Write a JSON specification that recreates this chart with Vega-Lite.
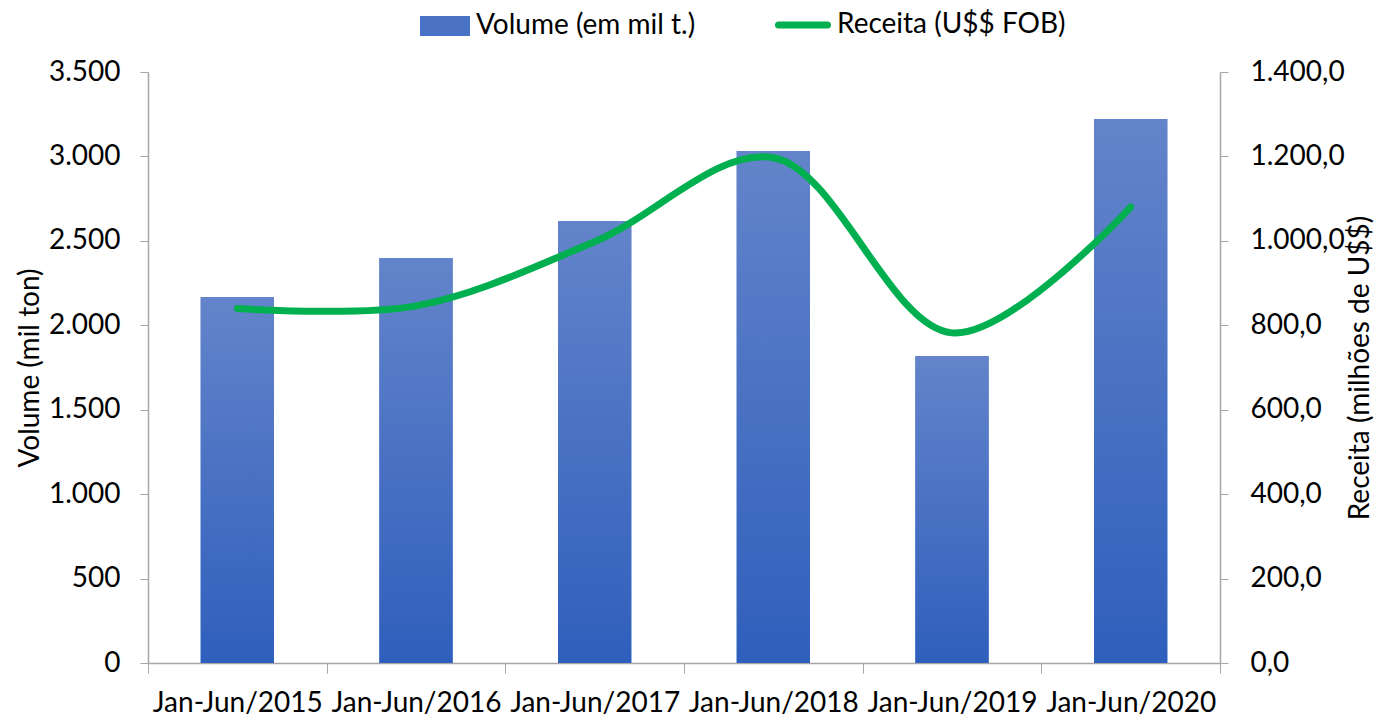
{
  "$schema": "https://vega.github.io/schema/vega-lite/v6.json",
  "width": 1072,
  "height": 591,
  "autosize": "none",
  "padding": {"left": 148, "top": 72, "right": 158, "bottom": 56},
  "background": "white",
  "config": {
    "view": {"stroke": null},
    "font": "Lato",
    "locale": {"number": {"decimal": ",", "thousands": ".", "grouping": [3], "currency": ["R$", ""]}},
    "axis": {"domainColor": "#a6a6a6", "tickColor": "#a6a6a6", "labelColor": "#000000", "titleColor": "#000000", "labelFont": "Lato", "titleFont": "Lato", "labelFontSize": 28, "titleFontSize": 28, "titleFontWeight": "normal", "grid": false}
  },
  "data": {"values": [
    {"p": "Jan-Jun/2015", "vol": 2167, "rec": 840},
    {"p": "Jan-Jun/2016", "vol": 2398, "rec": 846},
    {"p": "Jan-Jun/2017", "vol": 2618, "rec": 998},
    {"p": "Jan-Jun/2018", "vol": 3032, "rec": 1197},
    {"p": "Jan-Jun/2019", "vol": 1818, "rec": 782},
    {"p": "Jan-Jun/2020", "vol": 3222, "rec": 1080}
  ]},
  "encoding": {
    "x": {"field": "p", "type": "nominal", "sort": null,
      "scale": {"paddingInner": 0, "paddingOuter": 0},
      "axis": {"title": null, "labelAngle": 0, "tickBand": "extent", "tickSize": 10, "labelPadding": 16, "domainWidth": 1.5, "labelLimit": 0}}
  },
  "layer": [
    {
      "mark": {"type": "bar", "width": {"band": 0.41}},
      "encoding": {
        "y": {"field": "vol", "type": "quantitative", "scale": {"domain": [0, 3500]},
          "axis": {"title": "Volume (mil ton)", "values": [0, 500, 1000, 1500, 2000, 2500, 3000, 3500], "format": ",.0f", "tickSize": 8, "labelPadding": 20, "titlePadding": 4, "domainWidth": 1.5}},
        "color": {"datum": "Volume (em mil t.)", "type": "nominal",
          "scale": {"range": ["#4a72c4"]},
          "legend": {"orient": "none", "legendX": 272, "legendY": -71, "title": null, "symbolType": "M-1,-0.4H1V0.4H-1Z", "symbolSize": 2500, "symbolStrokeWidth": 0, "labelFontSize": 28, "labelFont": "Lato", "labelColor": "#000", "labelOffset": 6, "labelLimit": 0,
            "encode": {"symbols": {"update": {"fill": {"value": {"gradient": "linear", "x1": 0, "y1": 0, "x2": 0, "y2": 1, "stops": [{"offset": 0, "color": "#6384ca"}, {"offset": 1, "color": "#2f5fbc"}]}}}}}}}
      }
    },
    {
      "mark": {"type": "bar", "width": {"band": 0.41}, "color": {"gradient": "linear", "x1": 0, "y1": 0, "x2": 0, "y2": 1, "stops": [{"offset": 0, "color": "#6384ca"}, {"offset": 1, "color": "#2f5fbc"}]}},
      "encoding": {
        "y": {"field": "vol", "type": "quantitative", "scale": {"domain": [0, 3500]}, "axis": null}
      }
    },
    {
      "mark": {"type": "line", "interpolate": "catmull-rom", "strokeWidth": 7, "strokeCap": "round"},
      "encoding": {
        "y": {"field": "rec", "type": "quantitative", "scale": {"domain": [0, 1400]},
          "axis": {"orient": "right", "title": "Receita (milhões de U$$)", "titleAngle": 270, "titleBaseline": "top", "values": [0, 200, 400, 600, 800, 1000, 1200, 1400], "format": ",.1f", "tickSize": 8, "labelPadding": 22, "titlePadding": 2, "domainWidth": 1.5}},
        "color": {"datum": "Receita (U$$ FOB)", "type": "nominal",
          "scale": {"range": ["#00b050"]},
          "legend": {"orient": "none", "legendX": 627, "legendY": -75, "title": null, "symbolType": "stroke", "symbolSize": 2400, "symbolStrokeWidth": 7, "labelFontSize": 28, "labelFont": "Lato", "labelColor": "#000", "labelOffset": 6, "labelLimit": 0,
            "encode": {"symbols": {"update": {"strokeCap": {"value": "round"}}}}}}
      }
    }
  ],
  "resolve": {"scale": {"y": "independent", "color": "independent"}}
}
